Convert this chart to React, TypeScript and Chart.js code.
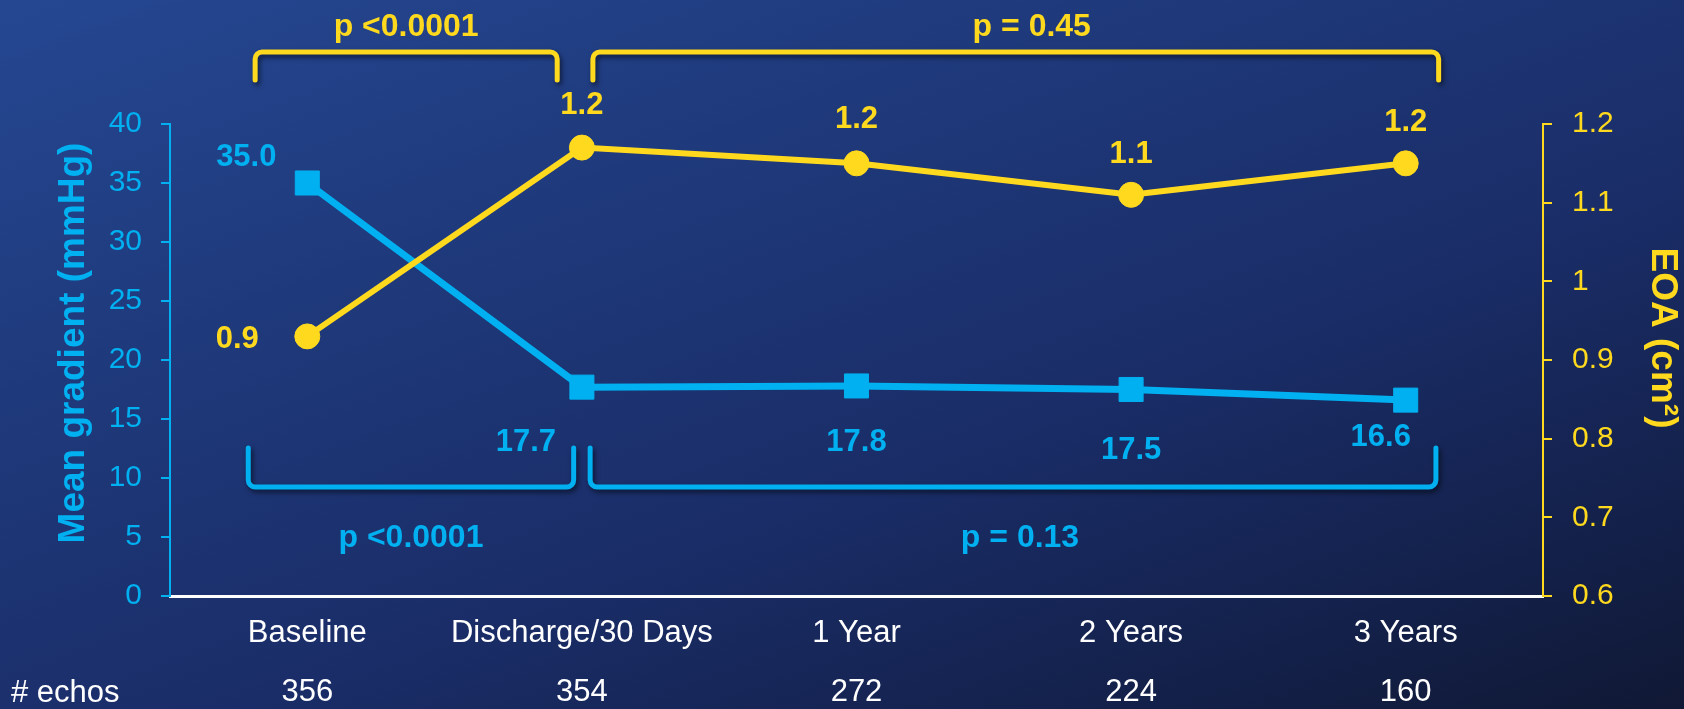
import React, { useEffect, useRef } from "react";
import { Chart, registerables } from "chart.js";

Chart.register(...registerables);

// ---------- data ----------
const categories = ["Baseline", "Discharge/30 Days", "1 Year", "2 Years", "3 Years"];
const echoCounts = ["356", "354", "272", "224", "160"];
const echoRowLabel = "# echos";

const meanGradient = [35.0, 17.7, 17.8, 17.5, 16.6];
const meanGradientLabels = ["35.0", "17.7", "17.8", "17.5", "16.6"];

const eoa = [0.93, 1.17, 1.15, 1.11, 1.15];
const eoaLabels = ["0.9", "1.2", "1.2", "1.1", "1.2"];

const leftAxisTitle = "Mean gradient (mmHg)";
const rightAxisTitle = "EOA (cm\u00B2)";

const eoaPValues = ["p <0.0001", "p = 0.45"];
const gradientPValues = ["p <0.0001", "p = 0.13"];

// ---------- styles ----------
const FONT = '"Liberation Sans", Arial, Helvetica, sans-serif';
const BLUE = "#00B0F0";
const YELLOW = "#FFD91E";
const WIDTH = 1684;
const HEIGHT = 709;

// label offsets (px) relative to each point
const blueLabelOffsets = [
  [-61, -26],
  [-56, 55],
  [0, 56],
  [0, 61],
  [-25, 37],
];
const yellowLabelOffsets = [
  [-70, 3],
  [0, -42],
  [0, -44],
  [0, -40],
  [0, -41],
];

function drawBracket(ctx: CanvasRenderingContext2D, x1: number, x2: number, yLeg: number, yBar: number, r: number) {
  ctx.beginPath();
  ctx.moveTo(x1, yLeg);
  ctx.arcTo(x1, yBar, x2, yBar, r);
  ctx.arcTo(x2, yBar, x2, yLeg, r);
  ctx.lineTo(x2, yLeg);
  ctx.stroke();
}

const overlayPlugin = {
  id: "overlay",
  afterDatasetsDraw(chart: any) {
    const ctx: CanvasRenderingContext2D = chart.ctx;
    const xs = chart.scales.x;
    const area = chart.chartArea;
    const blueMeta = chart.getDatasetMeta(1);
    const yellowMeta = chart.getDatasetMeta(0);

    ctx.save();
    // value labels
    ctx.textAlign = "center";
    ctx.textBaseline = "middle";
    ctx.font = `bold 31px ${FONT}`;
    ctx.fillStyle = BLUE;
    meanGradientLabels.forEach((t, i) => {
      const p = blueMeta.data[i];
      const [dx, dy] = blueLabelOffsets[i];
      ctx.fillText(t, p.x + dx, p.y + dy);
    });
    ctx.fillStyle = YELLOW;
    eoaLabels.forEach((t, i) => {
      const p = yellowMeta.data[i];
      const [dx, dy] = yellowLabelOffsets[i];
      ctx.fillText(t, p.x + dx, p.y + dy);
    });

    // brackets
    const topSpans = [
      [-0.19, 0.91],
      [1.04, 4.12],
    ];
    const bottomSpans = [
      [-0.215, 0.97],
      [1.03, 4.11],
    ];
    ctx.lineWidth = 5;
    ctx.lineCap = "round";
    ctx.lineJoin = "round";
    ctx.shadowColor = "rgba(0,0,0,0.55)";
    ctx.shadowBlur = 5;
    ctx.shadowOffsetX = 2;
    ctx.shadowOffsetY = 3;
    ctx.strokeStyle = YELLOW;
    topSpans.forEach(([a, b]) => {
      drawBracket(ctx, xs.getPixelForValue(a), xs.getPixelForValue(b), area.top - 44, area.top - 72, 7);
    });
    ctx.strokeStyle = BLUE;
    bottomSpans.forEach(([a, b]) => {
      drawBracket(ctx, xs.getPixelForValue(a), xs.getPixelForValue(b), area.bottom - 148, area.bottom - 109, 7);
    });
    ctx.shadowColor = "transparent";
    ctx.shadowBlur = 0;
    ctx.shadowOffsetX = 0;
    ctx.shadowOffsetY = 0;

    ctx.font = `bold 32px ${FONT}`;
    ctx.textBaseline = "alphabetic";
    ctx.fillStyle = YELLOW;
    topSpans.forEach(([a, b], i) => {
      const cx = (xs.getPixelForValue(a) + xs.getPixelForValue(b)) / 2;
      ctx.fillText(eoaPValues[i], cx + (i === 1 ? 16 : 0), area.top - 88);
    });
    ctx.fillStyle = BLUE;
    bottomSpans.forEach(([a, b], i) => {
      const cx = (xs.getPixelForValue(a) + xs.getPixelForValue(b)) / 2;
      ctx.fillText(gradientPValues[i], cx + (i === 1 ? 7 : 0), area.bottom - 49);
    });

    // axis titles
    ctx.textBaseline = "middle";
    ctx.font = `bold 37px ${FONT}`;
    ctx.fillStyle = BLUE;
    ctx.save();
    ctx.translate(74, (area.top + area.bottom) / 2 - 17);
    ctx.rotate(-Math.PI / 2);
    ctx.fillText(leftAxisTitle, 0, 0);
    ctx.restore();
    ctx.fillStyle = YELLOW;
    ctx.save();
    ctx.translate(1662, (area.top + area.bottom) / 2 - 22);
    ctx.rotate(Math.PI / 2);
    ctx.fillText(rightAxisTitle, 0, 0);
    ctx.restore();

    // "# echos" row label
    ctx.font = `31px ${FONT}`;
    ctx.fillStyle = "#FFFFFF";
    ctx.textAlign = "left";
    ctx.fillText(echoRowLabel, 11, area.bottom + 97);
    ctx.restore();
  },
};

export default function App() {
  const ref = useRef<HTMLCanvasElement | null>(null);

  useEffect(() => {
    if (!ref.current) return;
    const chart = new Chart(ref.current, {
      type: "line",
      data: {
        labels: categories.map((c, i) => [c, echoCounts[i]]),
        datasets: [
          {
            label: "EOA",
            data: eoa,
            yAxisID: "yR",
            borderColor: YELLOW,
            backgroundColor: YELLOW,
            borderWidth: 6,
            pointStyle: "circle",
            pointRadius: 12.5,
            pointBorderWidth: 1,
            pointBackgroundColor: YELLOW,
            pointBorderColor: YELLOW,
            tension: 0,
            order: 0,
            clip: false,
          },
          {
            label: "Mean gradient",
            data: meanGradient,
            yAxisID: "yL",
            borderColor: BLUE,
            backgroundColor: BLUE,
            borderWidth: 7,
            pointStyle: "rect",
            pointRadius: 17,
            pointBorderWidth: 1,
            pointBackgroundColor: BLUE,
            pointBorderColor: BLUE,
            tension: 0,
            order: 1,
            clip: false,
          },
        ],
      },
      options: {
        responsive: false,
        animation: false,
        devicePixelRatio: 1,
        layout: { padding: { top: 124, bottom: 0, left: 0, right: 0 } },
        plugins: {
          legend: { display: false },
          tooltip: { enabled: false },
          title: { display: false },
        },
        scales: {
          x: {
            type: "category",
            offset: true,
            grid: { display: false, drawTicks: false },
            border: { display: true, color: "#FFFFFF", width: 3 },
            ticks: {
              color: "#FFFFFF",
              font: { family: FONT, size: 31, lineHeight: 1.9 },
              padding: 8,
              maxRotation: 0,
              autoSkip: false,
            },
            afterFit: (s: any) => {
              s.height = HEIGHT - 596;
            },
          },
          yL: {
            type: "linear",
            position: "left",
            min: 0,
            max: 40,
            ticks: {
              stepSize: 5,
              color: BLUE,
              font: { family: FONT, size: 30 },
              padding: 19,
            },
            grid: {
              drawOnChartArea: false,
              drawTicks: true,
              tickLength: 9,
              color: BLUE,
              lineWidth: 2,
            },
            border: { display: true, color: BLUE, width: 2 },
            afterFit: (s: any) => {
              s.width = 170;
            },
          },
          yR: {
            type: "linear",
            position: "right",
            min: 0.6,
            max: 1.2,
            ticks: {
              stepSize: 0.1,
              color: YELLOW,
              font: { family: FONT, size: 30 },
              padding: 20,
              callback: (v: any) => String(Number(Number(v).toFixed(1))),
            },
            grid: {
              drawOnChartArea: false,
              drawTicks: true,
              tickLength: 9,
              color: YELLOW,
              lineWidth: 2,
            },
            border: { display: true, color: YELLOW, width: 2 },
            afterFit: (s: any) => {
              s.width = WIDTH - 1543;
            },
          },
        },
      },
      plugins: [overlayPlugin],
    } as any);
    return () => chart.destroy();
  }, []);

  return (
    <div
      style={{
        position: "fixed",
        left: 0,
        top: 0,
        width: WIDTH,
        height: HEIGHT,
        background:
          "linear-gradient(160deg, #254792 0%, #1f3a7c 30%, #1a2d68 60%, #132049 85%, #101834 100%)",
      }}
    >
      <canvas ref={ref} width={WIDTH} height={HEIGHT} style={{ width: WIDTH, height: HEIGHT, display: "block" }} />
    </div>
  );
}
